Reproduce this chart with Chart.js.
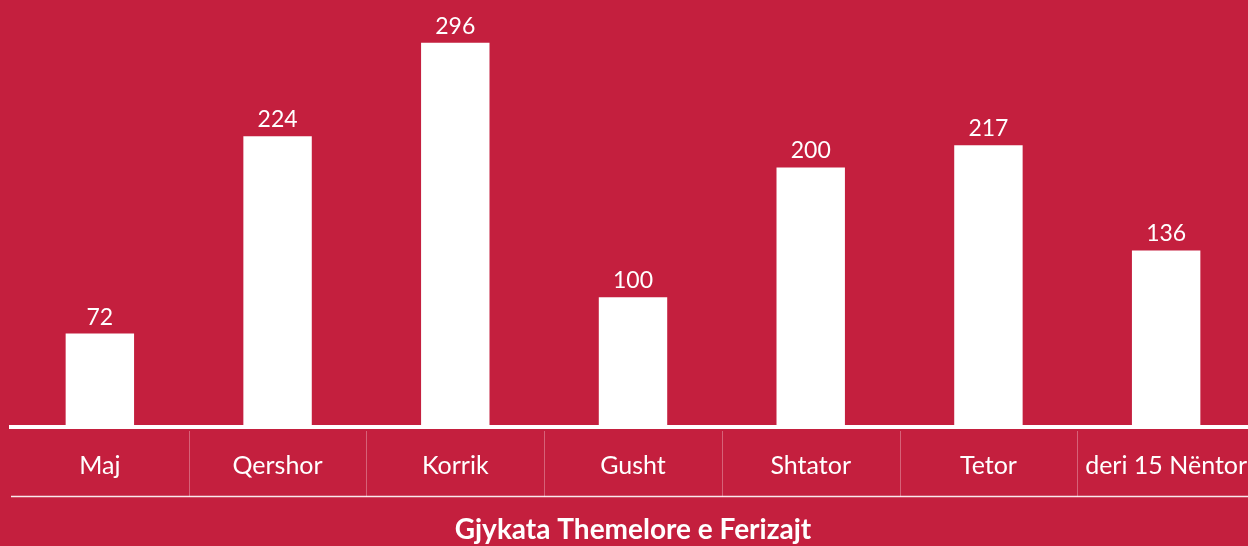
<!DOCTYPE html>
<html>
<head>
<meta charset="utf-8">
<script src="https://cdn.jsdelivr.net/npm/chart.js@4"></script>
<style>
  html, body { margin: 0; padding: 0; background: #c41f3e; overflow: hidden; }
  canvas { display: block; }
</style>
</head>
<body>
<canvas id="court-chart" width="1255" height="546"></canvas>
<script>
const months = ["Maj", "Qershor", "Korrik", "Gusht", "Shtator", "Tetor", "deri 15 Nëntor"];
const cases = [72, 224, 296, 100, 200, 217, 136];
const courtName = "Gjykata Themelore e Ferizajt";

const fontName = "Lato, 'Open Sans', sans-serif";

// labels above bars + thin separators under the axis
const extras = {
    id: "extras",
    afterDatasetsDraw(chart) {
        const ctx = chart.ctx;
        const meta = chart.getDatasetMeta(0);
        ctx.save();
        ctx.fillStyle = "#fff";
        ctx.font = "23px " + fontName;
        ctx.textAlign = "center";
        ctx.textBaseline = "alphabetic";
        meta.data.forEach((bar, i) => {
            ctx.fillText(cases[i], bar.x, bar.y - 9);
        });
        ctx.restore();
    },
    afterDraw(chart) {
        const ctx = chart.ctx;
        const x = chart.scales.x;
        const area = chart.chartArea;
        ctx.save();
        ctx.strokeStyle = "rgba(255,255,255,0.3)";
        ctx.lineWidth = 1;
        for (let i = 1; i < months.length; i++) {
            const px = Math.round((x.getPixelForValue(i - 1) + x.getPixelForValue(i)) / 2) + 0.5;
            ctx.beginPath();
            ctx.moveTo(px, area.bottom + 4);
            ctx.lineTo(px, area.bottom + 70);
            ctx.stroke();
        }
        ctx.strokeStyle = "rgba(255,255,255,0.9)";
        ctx.lineWidth = 1.5;
        ctx.beginPath();
        ctx.moveTo(area.left, area.bottom + 69.5);
        ctx.lineTo(area.right, area.bottom + 69.5);
        ctx.stroke();
        ctx.restore();
    }
};

new Chart(document.querySelector("#court-chart"), {
    type: "bar",
    data: {
        labels: months,
        datasets: [
            {
                data: cases,
                backgroundColor: "#ffffff",
                borderWidth: 0,
                categoryPercentage: 1,
                barPercentage: 0.385,
            },
        ],
    },
    options: {
        responsive: false,
        animation: false,
        layout: { padding: { left: 11, right: 0, top: 0, bottom: 0 } },
        plugins: {
            legend: { display: false },
            tooltip: { enabled: false },
        },
        scales: {
            y: {
                display: false,
                min: 0,
                max: 329,
            },
            x: {
                grid: { display: false },
                border: { display: true, color: "#ffffff", width: 4 },
                ticks: {
                    color: "#ffffff",
                    font: { family: fontName, size: 25 },
                    padding: 16,
                    maxRotation: 0,
                    autoSkip: false,
                },
                title: {
                    display: true,
                    text: courtName,
                    color: "#ffffff",
                    font: { family: fontName, size: 28, weight: "bold", lineHeight: 1.1 },
                    padding: { top: 0, bottom: 1 },
                },
                afterFit(scale) {
                    scale.height = 119;
                    scale.paddingLeft = 0;
                    scale.paddingRight = 0;
                },
            },
        },
    },
    plugins: [extras],
});
</script>
</body>
</html>
